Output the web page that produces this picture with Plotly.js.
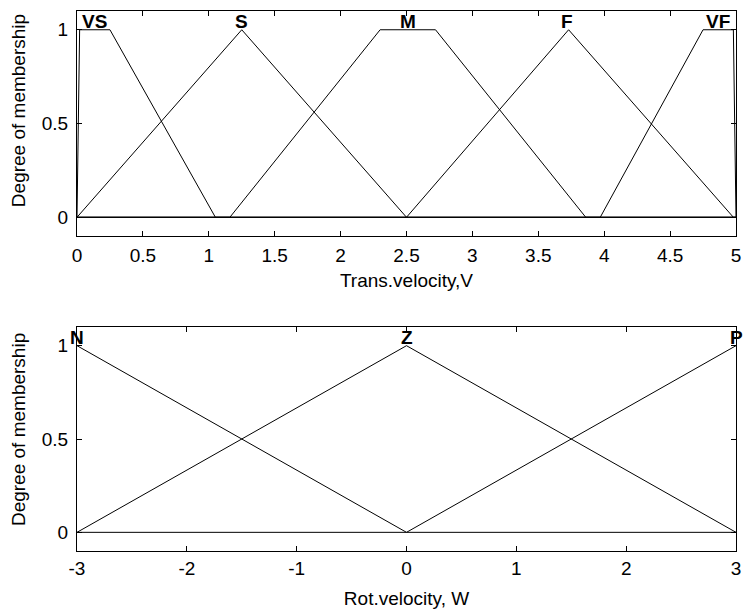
<!DOCTYPE html>
<html>
<head>
<meta charset="utf-8">
<script src="https://cdn.plot.ly/plotly-3.0.1.min.js"></script>
<style>html,body{margin:0;padding:0;background:#fff;}#chart{width:743px;height:612px;}</style>
</head>
<body>
<div id="chart"></div>
<script>
// ---- Data: translational velocity membership functions (x breakpoints, membership degrees)
const vsX = [0, 0.02, 0.25, 1.05, 5];
const vsY = [0, 1, 1, 0, 0];
const sX = [0, 0, 1.25, 2.5, 5];
const sY = [0, 0, 1, 0, 0];
const mX = [0, 1.16, 2.3, 2.72, 3.86, 5];
const mY = [0, 0, 1, 1, 0, 0];
const fX = [0, 2.5, 3.73, 4.98, 5];
const fY = [0, 0, 1, 0, 0];
const vfX = [0, 3.97, 4.75, 4.98, 5];
const vfY = [0, 0, 1, 1, 0];
const transNames = ["VS", "S", "M", "F", "VF"];
const transLabelX = [0.135, 1.25, 2.51, 3.72, 4.86];

// ---- Data: rotational velocity membership functions
const nX = [-3, 0, 3];
const nY = [1, 0, 0];
const zX = [-3, 0, 3];
const zY = [0, 1, 0];
const pX = [-3, 0, 3];
const pY = [0, 0, 1];
const rotNames = ["N", "Z", "P"];
const rotLabelX = [-3, 0, 3];

const transTicks = [0, 0.5, 1, 1.5, 2, 2.5, 3, 3.5, 4, 4.5, 5];
const rotTicks = [-3, -2, -1, 0, 1, 2, 3];
const yTicks = [0, 0.5, 1];
const yTitle = "Degree of membership";

const FONT = "Arial, 'Liberation Sans', sans-serif";
const FS = 19;
const lineStyle = {color: "#000", width: 1};

function tr(x, y, ax) {
  return {x: x, y: y, mode: "lines", line: lineStyle, xaxis: ax.x, yaxis: ax.y,
          hoverinfo: "skip", showlegend: false};
}
const axTop = {x: "x", y: "y"}, axBot = {x: "x2", y: "y2"};
const data = [
  tr(vsX, vsY, axTop), tr(sX, sY, axTop), tr(mX, mY, axTop), tr(fX, fY, axTop), tr(vfX, vfY, axTop),
  tr(nX, nY, axBot), tr(zX, zY, axBot), tr(pX, pY, axBot)
];

const annotations = [];
transNames.forEach((t, i) => annotations.push({
  text: "<b>" + t + "</b>", x: transLabelX[i], y: 1, xref: "x", yref: "y",
  xanchor: "center", yanchor: "bottom", showarrow: false, borderpad: 0, yshift: -3,
  font: {family: FONT, size: FS, color: "#000"}
}));
rotNames.forEach((t, i) => annotations.push({
  text: "<b>" + t + "</b>", x: rotLabelX[i], y: 1, xref: "x2", yref: "y2",
  xanchor: "center", yanchor: "bottom", showarrow: false, borderpad: 0, yshift: -3,
  font: {family: FONT, size: FS, color: "#000"}
}));
// y-axis titles (placed as rotated annotations, slightly above panel centre like the reference)
[["y domain", 0.555], ["y2 domain", 0.54]].forEach(([yr, yv]) => annotations.push({
  text: yTitle, textangle: -90, xref: "paper", x: -0.0895, yref: yr, y: yv,
  xanchor: "center", yanchor: "middle", showarrow: false,
  font: {family: FONT, size: FS, color: "#000"}
}));

const axBase = {
  showline: true, linecolor: "#000", linewidth: 1, mirror: "ticks",
  ticks: "inside", ticklen: 5, tickwidth: 1, tickcolor: "#000",
  showgrid: false, zeroline: false, automargin: false,
  tickfont: {family: FONT, size: FS, color: "#000"}
};
const titleFont = {family: FONT, size: FS, color: "#000"};

const layout = {
  width: 743, height: 612,
  margin: {l: 77, r: 7, t: 11, b: 61},
  paper_bgcolor: "#fff", plot_bgcolor: "#fff",
  font: {family: FONT, color: "#000"},
  xaxis: Object.assign({}, axBase, {
    domain: [0, 1], range: [0, 5], anchor: "y",
    tickvals: transTicks, ticktext: transTicks.map(String), ticklabelstandoff: 2,
    title: {text: "Trans.velocity,V", font: titleFont, standoff: 8}
  }),
  yaxis: Object.assign({}, axBase, {
    domain: [0.5833, 1], range: [-0.1, 1.1], anchor: "x",
    tickvals: yTicks, ticktext: yTicks.map(String), ticklabelstandoff: 4
  }),
  xaxis2: Object.assign({}, axBase, {
    domain: [0, 1], range: [-3, 3], anchor: "y2",
    tickvals: rotTicks, ticktext: rotTicks.map(String), ticklabelstandoff: 0,
    title: {text: "Rot.velocity, W", font: titleFont, standoff: 13}
  }),
  yaxis2: Object.assign({}, axBase, {
    domain: [0, 0.4148], range: [-0.1, 1.1], anchor: "x2",
    tickvals: yTicks, ticktext: yTicks.map(String), ticklabelstandoff: 4
  }),
  annotations: annotations
};

Plotly.newPlot("chart", data, layout, {staticPlot: true, displayModeBar: false});
</script>
</body>
</html>
